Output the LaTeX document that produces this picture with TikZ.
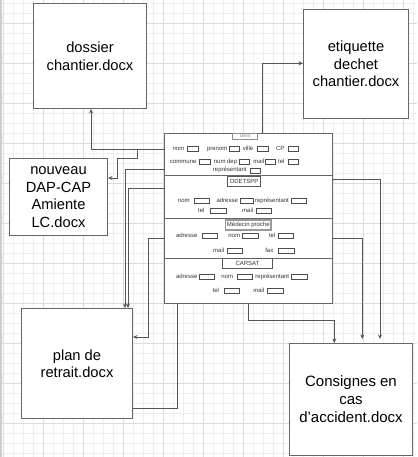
\documentclass[tikz,border=0pt]{standalone}
\usepackage{fontspec}
\setmainfont{Liberation Sans}
\usetikzlibrary{arrows.meta}
\definecolor{gridminor}{HTML}{EEEEEE}
\definecolor{gridmajor}{HTML}{DCDCDC}
\definecolor{boxline}{HTML}{666666}
\definecolor{connline}{HTML}{555555}
\definecolor{fieldtext}{HTML}{333333}
\tikzset{
  doc/.style={draw=boxline, line width=1pt, fill=white, anchor=north west, inner sep=2pt,
    align=center, font=\fontsize{14.7}{17.5}\selectfont},
  conn/.style={draw=connline, line width=0.8pt, -{Stealth[length=4.5pt,width=4pt]}},
  plainconn/.style={draw=connline, line width=0.8pt},
  flab/.style={inner sep=0pt, text height=4.4pt, text depth=1.2pt, font=\fontsize{6}{6}\selectfont, text=fieldtext},
  fbox/.style={draw=black!70, line width=0.6pt, fill=white, inner sep=0pt, minimum height=5pt, anchor=west},
  sect/.style={draw=black!65, line width=0.8pt, fill=white, inner sep=0pt, minimum height=10pt,
    font=\fontsize{6}{6}\selectfont, text=fieldtext},
  sepline/.style={draw=boxline, line width=1pt},
}
\begin{document}
\begin{tikzpicture}[x=1pt,y=-1pt]
\useasboundingbox (0,0) rectangle (417,457);
\fill[white] (0,0) rectangle (417,457);
% grid
\foreach \g in {3,13,...,413} \draw[gridminor, line width=0.5pt] (\g,0) -- (\g,457);
\foreach \g in {3,13,...,453} \draw[gridminor, line width=0.5pt] (0,\g) -- (417,\g);
\foreach \g in {3,43,...,403} \draw[gridmajor, line width=0.6pt] (\g,0) -- (\g,457);
\foreach \g in {23,63,...,443} \draw[gridmajor, line width=0.6pt] (0,\g) -- (417,\g);
\draw[black!20, line width=2pt] (1,0) -- (1,457);

% documents
\node[doc, minimum width=113pt, minimum height=105pt] (dossier) at (33,3) {dossier\\chantier.docx};
\node[doc, minimum width=105pt, minimum height=109pt] (etiq) at (303,9) {etiquette\\dechet\\chantier.docx};
\node[doc, minimum width=98pt, minimum height=77pt] (dap) at (9,158) {nouveau\\DAP-CAP\\Amiente\\LC.docx};
\node[doc, minimum width=111pt, minimum height=110pt] (plan) at (21,308) {plan de\\retrait.docx};
\node[doc, minimum width=123pt, minimum height=112pt, font=\fontsize{15}{18}\selectfont] (cons) at (289,343) {Consignes en\\cas\\d\symbol{39}accident.docx};

% form
\node[draw=boxline, line width=1.2pt, fill=white, anchor=north west, minimum width=168pt, minimum height=170pt, inner sep=0pt] (form) at (164,133) {};
\draw[sepline] (form.west |- 0,175.7) -- (form.east |- 0,175.7);
\draw[sepline] (form.west |- 0,218.3) -- (form.east |- 0,218.3);
\draw[sepline] (form.west |- 0,258.3) -- (form.east |- 0,258.3);

\node[sect, minimum width=25.4pt, minimum height=5.7pt, draw=black!45, text=black!50, font=\fontsize{4.5}{4.5}\selectfont] (hclient) at (245,136.2) {client};
\node[sect, minimum width=33pt] (hddets) at (244.2,181.7) {DDETSPP};
\node[sect, minimum width=45.3pt, draw=black!40, line width=1.2pt] (hmed) at (248.3,225) {Médecin proche};
\node[sect, minimum width=50.4pt] (hcarsat) at (247.5,263.3) {CARSAT};

\foreach \lx/\ly/\lab/\bx/\bw [count=\i] in {
  178.5/148.7/nom/187.3/10.4, 217.2/148.7/prenom/229/10.3, 248/148.7/ville/257.3/10.4, 280.3/148.7/CP/287.7/10.3,
  183.3/161.5/commune/199.3/10.7, 225.5/161.5/num dep/239/10.3, 258.8/161.5/mail/265/10, 281.3/161.5/tel/287.7/10,
  229.8/170.3/représentant/250/10,
  183.8/200.8/nom/194.3/15, 227.2/200.8/adresse/240/12.7, 272/200.8/représentant/291/15,
  201.3/210.8/tel/210/15.7, 247.7/210.8/mail/256/15,
  186.7/236.2/adresse/201.7/15.6, 234.2/236.2/nom/242.3/15.4, 272.2/236.2/tel/278.3/15,
  218.7/250.5/mail/226.7/15.3, 269.3/250.5/fax/278.3/15.4,
  186.7/276.5/adresse/199/15.3, 227.2/276.5/nom/236.7/15, 272.3/276.5/représentant/291/15.7,
  215.8/290.8/tel/224/15, 258.8/290.8/mail/267.3/15.4} {
  \node[flab, name=fl\i] at (\lx,\ly) {\lab};
  \node[fbox, minimum width=\bw pt, name=fb\i] at (\bx,\ly) {};
}

% connectors
\draw[conn] (form.west |- 0,149) -| (dossier.south -| 91,0);
\draw[conn] (form.west |- 0,149) -| (137,158) -| (117,178) -- (dap.east |- 0,178);
\draw[conn] (form.west |- 0,169) -| (plan.north -| 125,0);
\draw[conn] (form.west |- 0,188.3) -| (plan.north -| 128,0);
\draw[conn] (form.west |- 0,238.3) -| (148,337) -- (plan.east |- 0,337);
\draw[plainconn] (form.south -| 177.7,0) |- (plan.east |- 0,408.3);
\draw[conn] (form.south -| 248.3,0) |- (334.3,320) -- (cons.north -| 334.3,0);
\draw[conn, shorten >=4pt] (form.east |- 0,179) -| (cons.north -| 380,0);
\draw[conn, shorten >=4pt] (form.east |- 0,238.3) -| (cons.north -| 362.3,0);
\draw[conn] (form.north -| 262.3,0) |- (etiq.west |- 0,63.3);
\end{tikzpicture}
\end{document}
